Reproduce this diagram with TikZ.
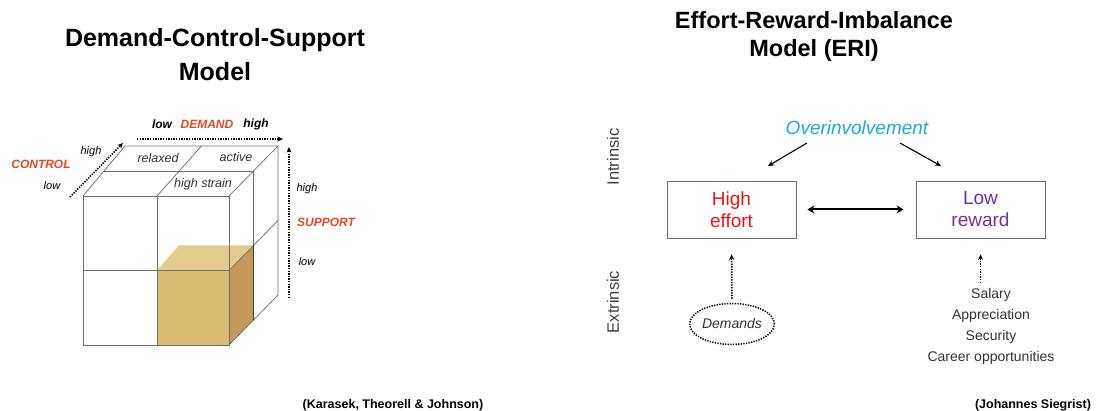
\documentclass[tikz,border=0pt]{standalone}
\usepackage{fontspec}
\setmainfont{Liberation Sans}
\usetikzlibrary{arrows.meta,shapes.geometric}
\definecolor{axred}{HTML}{E8461E}
\definecolor{effred}{HTML}{E81414}
\definecolor{rewpurp}{HTML}{7030A0}
\definecolor{ovcyan}{HTML}{1EA8E0}
\definecolor{cubegray}{HTML}{707070}
\definecolor{blkfront}{HTML}{D9BC72}
\definecolor{blktop}{HTML}{E2CB8C}
\definecolor{blkright}{HTML}{C49858}
\definecolor{txtgray}{HTML}{333333}
\begin{document}
\begin{tikzpicture}[x=1pt,y=-1pt,
  cubeline/.style={draw=cubegray,line width=0.75pt},
  dotarrow/.style={line width=1.6pt,dash pattern=on 1.3pt off 1.3pt,-{Stealth[length=5.5pt,width=5pt]}},
  cubetxt/.style={font=\fontsize{12.5}{14}\selectfont\itshape,text=txtgray,inner sep=0},
  axlab/.style={font=\fontsize{12}{14}\selectfont\bfseries\itshape,inner sep=0},
  axsmall/.style={font=\fontsize{11}{13}\selectfont\itshape,inner sep=0},
  eribox/.style={draw=gray!85!black,line width=0.8pt,minimum width=129,minimum height=57,align=center,font=\fontsize{19}{22}\selectfont},
  ovarrow/.style={line width=1.1pt,-{Stealth[length=6pt,width=5.5pt]}},
  sidelab/.style={font=\fontsize{16.5}{18}\selectfont,text=black!75,rotate=90,inner sep=0}
]
\useasboundingbox (0,0) rectangle (1101,411);
% titles
\node[align=center,font=\fontsize{25}{34}\selectfont\bfseries] (t1) at (215,55) {Demand-Control-Support\\Model};
\node[align=center,font=\fontsize{23.5}{28}\selectfont\bfseries] (t2) at (814,36) {Effort-Reward-Imbalance\\Model (ERI)};
\node[font=\fontsize{12.5}{14}\selectfont\bfseries] (c1) at (393,405) {(Karasek, Theorell \& Johnson)};
\node[font=\fontsize{12.5}{14}\selectfont\bfseries] (c2) at (1033,405) {(Johannes Siegrist)};
% cube coordinates
\coordinate (FLT) at (83,196); \coordinate (FMT) at (157,196); \coordinate (FRT) at (229,196);
\coordinate (FLM) at (83,270.5); \coordinate (FMM) at (157,270.5); \coordinate (FRM) at (229,270.5);
\coordinate (FLB) at (83,345); \coordinate (FMB) at (157,345); \coordinate (FRB) at (229,345);
\coordinate (BLT) at (125,146); \coordinate (BMT) at (201.5,146); \coordinate (BRT) at (278,146);
\coordinate (BRM) at (278,220.5); \coordinate (BRB) at (278,295);
\coordinate (MLT) at (104,171); \coordinate (MRT) at (253.5,171); \coordinate (MRB) at (253.5,320);
\coordinate (KTL) at (179,245.5); \coordinate (KTR) at (253.5,245.5);
% block
\fill[blkfront] (FMM) rectangle (FRB);
\fill[blktop] (FMM) -- (KTL) -- (KTR) -- (FRM) -- cycle;
\fill[blkright] (FRM) -- (KTR) -- (MRB) -- (FRB) -- cycle;
% cube lines
\draw[cubeline] (FLT) rectangle (FRB);
\draw[cubeline] (FMT) -- (FMB);
\draw[cubeline] (FLM) -- (FRM);
\draw[cubeline] (FLT) -- (BLT) -- (BRT) -- (FRT);
\draw[cubeline] (BRT) -- (BRB) -- (FRB);
\draw[cubeline] (FMT) -- (BMT);
\draw[cubeline] (MLT) -- (MRT) -- (MRB);
\draw[cubeline] (FRM) -- (BRM);
\draw[draw=black!60!blkright,line width=0.9pt] (KTR) -- (MRB);
% cube texts
\node[cubetxt] (relaxed) at (158,158) {relaxed};
\node[cubetxt] (active) at (236,157) {active};
\node[cubetxt] (strain) at (203,184) {high strain};
% demand axis
\node[axlab] (dlow) at (162,124) {low};
\node[axlab,text=axred] (demand) at (207,124) {DEMAND};
\node[axlab] (dhigh) at (256,124) {high};
\coordinate (da) at (137,139); \coordinate (db) at (283,139);
\draw[dotarrow] (da) -- (db);
% control axis
\node[axlab,text=axred] (control) at (41,164) {CONTROL};
\node[axsmall] (chigh) at (91,152) {high};
\node[axsmall] (clow) at (52,186) {low};
\coordinate (ca) at (70,197); \coordinate (cb) at (123,143);
\draw[dotarrow] (ca) -- (cb);
% support axis
\coordinate (sa) at (289,298); \coordinate (sb) at (289,147);
\draw[dotarrow] (sa) -- (sb);
\node[axsmall] (shigh) at (307,189) {high};
\node[axlab,text=axred] (support) at (326,222) {SUPPORT};
\node[axsmall] (slow) at (307,262) {low};
% ERI
\node[sidelab] (intr) at (613,157) {Intrinsic};
\node[sidelab] (extr) at (613,302) {Extrinsic};
\node[font=\fontsize{19}{22}\selectfont\itshape,text=ovcyan] (ov) at (857,128) {Overinvolvement};
\node[eribox,text=effred] (effort) at (731.5,209.5) {High\\effort};
\node[eribox,text=rewpurp] (reward) at (980.5,209.5) {Low\\reward};
\coordinate (o1) at (807,143); \coordinate (o1e) at (768,166);
\coordinate (o2) at (900,143); \coordinate (o2e) at (941,166);
\draw[ovarrow] (o1) -- (o1e);
\draw[ovarrow] (o2) -- (o2e);
\draw[line width=2pt,{Stealth[length=7pt,width=8pt]}-{Stealth[length=7pt,width=8pt]},shorten <=11pt,shorten >=12pt] (effort.east) -- (reward.west);
\node[ellipse,draw,line width=1.5pt,dash pattern=on 1.3pt off 1.3pt,minimum width=82,minimum height=41,inner sep=0,font=\fontsize{14}{16}\selectfont\itshape,text=txtgray] (dem) at (732,324) {Demands};
\draw[dotarrow,shorten <=4pt,shorten >=16pt] (dem.north) -- (effort.south);
\node[align=center,font=\fontsize{14}{21}\selectfont,text=txtgray] (rewlist) at (991,326.5) {Salary\\Appreciation\\Security\\Career opportunities};
\coordinate (ra) at (980.5,283);
\draw[dotarrow,shorten >=16pt] (ra) -- (reward.south);
\end{tikzpicture}
\end{document}
